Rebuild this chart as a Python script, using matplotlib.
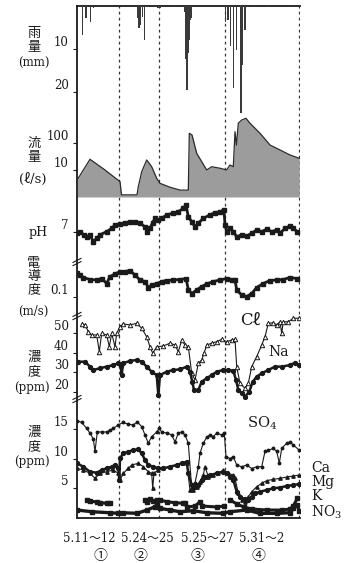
import numpy as np
import matplotlib
matplotlib.use('Agg')
import matplotlib.pyplot as plt
from matplotlib.transforms import ScaledTranslation
from matplotlib.lines import Line2D

plt.rcParams['font.family'] = ['DejaVu Serif', 'Noto Sans CJK JP', 'DejaVu Sans']
plt.rcParams['mathtext.fontset'] = 'dejavuserif'

# ---------------- data ----------------
segment_edges = [0, 41.7, 82, 148.3, 222.3]
segment_labels = ['5.11〜12', '5.24〜25', '5.25〜27', '5.31〜2']
segment_ids = ['①', '②', '③', '④']

rain_t = [5.7, 9, 13.7, 16.5, 60.3, 62, 63.7, 65.3, 67.7, 70.7, 81, 83, 98,
          108, 109, 110, 111, 112, 113, 114.5,
          148.7, 151, 153.7, 156.3, 159.7, 164, 165.7, 168, 178, 191, 213]
rain_mm = [6.7, 2.8, 3.7, 0.5, 2.8, 5.1, 4.4, 2.5, 7.9, 0.3, 0.4, 0.5, 0.3,
           1.3, 12.4, 19.5, 11.0, 8.0, 3.3, 2.8,
           3.7, 3.3, 9.4, 19.1, 10.2, 24.9, 13.7, 5.6, 0.3, 0.3, 0.3]

flow_t = [0.5, 13, 28, 43, 44.5, 60, 61.3, 64.7, 69.7, 74.7, 79.7, 83, 93, 103,
          111.3, 112.3, 115, 119.7, 124.7, 129.7, 134.7, 143, 149.7, 153, 156.3,
          158, 159.5, 161.3, 164.7, 169, 173, 183, 193, 203, 213, 222.3]
flow_q = [4.5, 24.9, 10, 3.7, 1.2, 1.2, 2.4, 8.6, 23.5, 13.2, 4.9, 3.2, 2.3, 1.8,
          1.8, 229, 198, 41.5, 20.3, 10, 13.2, 11.6, 10, 15.3, 13.2,
          262, 84, 537, 708, 820, 537, 229, 84, 55, 36, 27]

ph_t = [0, 3, 6.5, 9.7, 13, 16.3, 20, 23, 29.7, 34.7, 38, 43, 48, 53, 58, 63, 68,
        70.3, 73, 75.5, 78, 81.3, 84.7, 89.7, 96.3, 101.3, 106.3, 109, 111.3,
        114.7, 118, 121.3, 126.3, 133, 138, 143, 147, 148, 149.7, 153, 156.3,
        159.7, 164.7, 169.7, 174.7, 179.7, 184.7, 189.7, 194.7, 199.7, 203, 208,
        213, 216.3, 220.3]
ph_v = [6.97, 7.01, 6.93, 6.88, 6.93, 6.76, 6.85, 6.93, 7.01, 7.09, 7.18, 7.20,
        7.22, 7.26, 7.26, 7.22, 7.13, 7.01, 7.09, 7.23, 7.34, 7.30, 7.34, 7.43,
        7.47, 7.51, 7.59, 7.68, 7.38, 7.26, 7.13, 7.22, 7.34, 7.43, 7.48, 7.51,
        7.55, 7.18, 7.01, 7.09, 7.01, 6.88, 6.93, 6.90, 6.97, 7.05, 7.01, 7.07,
        7.01, 7.05, 6.97, 7.09, 7.15, 7.09, 7.01]

ec_t = [0, 3.3, 6.3, 13, 19.7, 24.7, 29.7, 33, 38, 43, 48, 53, 58, 63, 68, 71.3,
        74.7, 79.7, 84.7, 89.7, 96.3, 103, 109, 111.3, 114.7, 119.7, 124.7, 129.7,
        136.3, 143, 149.7, 154.7, 158, 159.7, 164.7, 169.7, 174.7, 179.7, 186.3,
        193, 199.7, 206.3, 213, 219.7]
ec_v = [0.149, 0.144, 0.139, 0.135, 0.134, 0.137, 0.127, 0.141, 0.146, 0.151,
        0.151, 0.153, 0.144, 0.134, 0.131, 0.119, 0.124, 0.127, 0.131, 0.133,
        0.134, 0.135, 0.137, 0.115, 0.107, 0.114, 0.121, 0.126, 0.131, 0.134,
        0.137, 0.135, 0.134, 0.114, 0.104, 0.101, 0.107, 0.119, 0.127, 0.133,
        0.134, 0.135, 0.139, 0.137]

cl_t = [4.7, 8, 11.3, 14.7, 19.7, 22.3, 24.7, 29.7, 32.3, 34.7, 38, 39.7, 43,
        46.3, 53, 59.7, 64.7, 69.7, 73, 75.7, 79.7, 86.3, 93, 98, 101.3, 104.7,
        108, 111.3, 114.7, 118, 121.3, 124.7, 127, 129.7, 134.7, 139.7, 144.7,
        149.7, 154.7, 158, 159.7, 163, 168, 171.3, 174.7, 179.7, 184.7, 188,
        191.3, 196.3, 199.7, 203, 204.7, 206.3, 211.3, 216.3, 222.3]
cl_v = [54.6, 54.1, 50.7, 49.0, 49.0, 40.5, 49.8, 49.0, 43.0, 49.8, 43.0, 49.8,
        53.2, 54.6, 54.1, 54.9, 52.4, 48.1, 43.0, 39.7, 43.0, 43.4, 44.8, 43.9,
        40.5, 46.4, 43.9, 43.0, 29.5, 26.1, 34.6, 36.3, 39.7, 43.9, 44.8, 45.6,
        46.8, 45.6, 46.4, 46.8, 32.9, 24.4, 21.9, 24.4, 32.9, 38.0, 43.9, 48.1,
        54.9, 55.2, 54.1, 55.7, 49.8, 55.7, 55.7, 57.5, 57.5]

na_t = [1.3, 8, 13, 16.3, 23, 29.7, 36.3, 41.3, 43.5, 44.7, 46, 53, 59.7, 64.7,
        69.7, 74.7, 79.7, 81.3, 83, 89.7, 96.3, 103, 109.7, 113, 115.3, 117,
        121.3, 124.7, 129.7, 134.7, 139.7, 146.3, 151.3, 156.3, 159, 161.3, 164.7,
        168, 172.3, 175.7, 179.7, 184.7, 191.3, 198, 204.7, 213, 218, 222.3]
na_v = [35.4, 35.4, 32.9, 31.2, 32.1, 32.9, 33.7, 34.6, 33.2, 28.6, 34.6, 35.8,
        36.3, 35.4, 32.9, 30.3, 28.6, 18.5, 28.6, 30.3, 31.2, 31.5, 32.9, 30.3,
        25.2, 21.0, 21.0, 25.2, 27.0, 28.6, 30.3, 31.2, 31.2, 30.8, 26.1, 21.0,
        19.3, 17.6, 20.2, 25.2, 27.8, 29.5, 31.2, 32.9, 32.9, 33.7, 34.9, 33.7]

so4_t = [0, 4.7, 9.7, 13, 16.3, 18, 20.3, 25, 29.7, 33, 36.3, 41.3, 46.3, 51.3,
         56.3, 60.3, 64.7, 68, 71.3, 74.7, 79.7, 82.3, 84.7, 89.7, 94.7, 98,
         101.3, 104.7, 108, 111.3, 114.7, 118, 121.3, 123, 126.3, 129.7, 133,
         136.3, 139.7, 144.7, 147.3, 149, 153, 156.3, 159.7, 164.7, 169.7, 174.7,
         179.7, 184.7, 188, 191.3, 196.3, 199.7, 202.3, 204.7, 209.7, 213, 216.3,
         222.3]
so4_v = [16.4, 16.1, 15.1, 14.3, 13.3, 11.2, 14.5, 14.5, 14.5, 14.8, 15.1, 15.7,
         16.1, 15.8, 15.7, 16.2, 15.4, 14.0, 12.6, 13.7, 14.5, 15.1, 14.5, 14.3,
         14.0, 12.8, 14.3, 14.5, 14.0, 12.6, 5.0, 5.8, 8.6, 10.9, 12.6, 13.6,
         14.0, 13.7, 14.3, 14.0, 14.3, 10.3, 10.0, 10.3, 8.9, 8.6, 8.9, 8.3,
         8.6, 8.6, 11.2, 11.4, 11.7, 11.2, 9.2, 11.7, 12.6, 12.8, 12.3, 11.4]

ca_t = [0, 6.3, 13, 18, 23, 29.7, 36.3, 41.3, 43, 46.3, 51.3, 54.7, 61.3, 66.3,
        71.3, 74.7, 75.7, 77, 81.3, 86.3, 93, 99.7, 106.3, 109.7, 113, 116,
        119.7, 123, 126.3, 128, 131.3, 136.3, 141.3, 146.3, 151.3, 156.3, 158,
        161.3, 164.7, 168, 171.3, 174.7, 179.7, 184.7, 189.7, 196.3, 203, 209.7,
        216.3, 222.3]
ca_v = [8.34, 8.05, 7.49, 6.64, 7.49, 7.76, 8.05, 7.49, 6.36, 7.49, 8.34, 8.90,
        9.19, 8.61, 7.76, 7.49, 4.95, 7.54, 8.05, 8.34, 8.61, 8.90, 9.19, 9.19,
        4.66, 4.66, 5.22, 6.07, 7.20, 8.61, 6.92, 7.20, 7.49, 8.05, 7.49, 7.20,
        6.64, 4.10, 2.97, 2.68, 3.53, 4.37, 5.22, 5.80, 6.24, 6.47, 6.64, 6.86,
        7.03, 7.20]

mg_t = [0, 6.3, 13, 19.7, 24.7, 29.7, 34.7, 38, 41.3, 42.3, 43, 46.3, 51.3, 56.3,
        61.3, 64.7, 68, 71.3, 76.3, 81.3, 86.3, 93, 99.7, 104.7, 109.7, 111.3,
        114.7, 118, 121.3, 124.7, 128, 133, 139.7, 146.3, 149.7, 153, 156.3,
        159.7, 163, 168, 171.3, 174.7, 178, 183, 189.7, 196.3, 203, 209.7, 216.3,
        222.3]
mg_v = [9.19, 8.61, 7.76, 7.59, 8.05, 8.34, 8.61, 8.90, 8.34, 6.36, 10.03, 10.88,
        11.15, 11.44, 11.56, 10.88, 9.75, 8.90, 8.61, 8.34, 8.34, 8.61, 8.90,
        9.19, 9.46, 7.49, 5.51, 5.22, 5.51, 6.36, 6.92, 7.20, 7.49, 7.76, 7.59,
        6.92, 6.36, 4.37, 3.53, 3.08, 2.97, 3.53, 4.10, 4.37, 4.66, 4.95, 5.08,
        5.34, 5.51, 5.68]

k_t = [9.7, 13, 19.7, 23, 29.7, 33, np.nan, 68, 70, 73, 76.3, 79.7, 83, 89.7, 98,
       106.3, 108, 110, 118, 123, 125, 140, 147, np.nan, 153, 160, 166.7, 175,
       190, 205, 213, 216.3, 220.3]
k_v = [2.97, 2.80, 2.63, 2.51, 2.41, 2.41, np.nan, 2.97, 2.68, 3.14, 2.80, 2.97,
       2.97, 2.68, 2.51, 2.41, 2.41, 1.78, 1.95, 2.68, 1.95, 1.78, 1.95, np.nan,
       2.97, 2.29, 1.78, 1.44, 1.27, 1.27, 1.44, 1.95, 3.25]

no3_t = [0, 15, 33, 41.3, 46.3, 60, 70, 78, 80, 83, 93, 103, 116.3, 129.7,
         146.3, 153, 169.7, 183, 199.7, 213, 216.3, 220.3, 222.3]
no3_v = [1.27, 0.98, 0.81, 0.71, 0.81, 0.71, 1.27, 1.83, 2.12, 1.56, 1.27, 0.98,
         1.15, 0.81, 0.71, 0.98, 1.27, 0.71, 0.71, 0.81, 1.61, 2.12, 1.1]

# ---------------- layout helpers ----------------
W, H = 352, 563
X0, X1 = 77, 300
fig = plt.figure(figsize=(W / 100, H / 100), dpi=100)


def rect(ytop, ybot):
    return [X0 / W, 1 - ybot / H, (X1 - X0) / W, (ybot - ytop) / H]


def fx(x):
    return x / W


def fy(y):
    return 1 - y / H


INK = '#1a1a1a'
CJK = ['Noto Sans CJK JP']
SER = ['DejaVu Serif', 'Noto Sans CJK JP', 'DejaVu Sans']

# frame axes (left axis, top & bottom lines, dashed event separators)
frame = fig.add_axes(rect(6, 518))
frame.set_xlim(0, 223)
frame.set_ylim(0, 1)
frame.patch.set_alpha(0)
frame.set_xticks([])
frame.set_yticks([])
frame.spines['right'].set_visible(False)
for s in ('left', 'top', 'bottom'):
    frame.spines[s].set_linewidth(1.3)
    frame.spines[s].set_color(INK)
for e in segment_edges[1:]:
    frame.axvline(e, color='#333333', lw=0.9, ls=(0, (2.2, 2.6)))

offset = ScaledTranslation(0, 0.08, fig.dpi_scale_trans)


def panel(ytop, ybot):
    ax = fig.add_axes(rect(ytop, ybot), sharex=frame)
    ax.patch.set_alpha(0)
    for s in ax.spines.values():
        s.set_visible(False)
    ax.tick_params(axis='x', bottom=False, labelbottom=False)
    ax.tick_params(axis='y', direction='out', length=3, width=0.8, pad=3,
                   labelsize=8.5, colors=INK)
    return ax


def shift_labels(ax):
    for lbl in ax.get_yticklabels():
        lbl.set_transform(lbl.get_transform() + offset)


# rain
ax_r = panel(6, 100)
ax_r.bar(rain_t, rain_mm, width=1.3, color='#3a3a3a', lw=0, clip_on=False,
         zorder=3)
ax_r.set_ylim(21.9, 0)
ax_r.set_yticks([10, 20])
shift_labels(ax_r)

# flow
ax_q = panel(100, 197)
ax_q.set_yscale('log')
ax_q.fill_between(flow_t, 1, flow_q, color='#9c9c9c', lw=0)
ax_q.plot(flow_t, flow_q, color='#2a2a2a', lw=0.9)
ax_q.set_ylim(1, 3900)
ax_q.set_yticks([10, 100])
ax_q.set_yticklabels(['10', '100'])
ax_q.yaxis.set_minor_locator(matplotlib.ticker.NullLocator())
shift_labels(ax_q)

# pH
ax_ph = panel(197, 260)
ax_ph.plot(ph_t, ph_v, color=INK, lw=2.0, marker='s', ms=2.6)
ax_ph.set_ylim(6.3, 7.875)
ax_ph.set_yticks([7])
ax_ph.set_yticklabels(['7'])
shift_labels(ax_ph)

# conductivity
ax_ec = panel(262, 310)
ax_ec.plot(ec_t, ec_v, color=INK, lw=2.0, marker='s', ms=2.6)
ax_ec.set_ylim(0.074, 0.17)
ax_ec.set_yticks([0.1])
ax_ec.set_yticklabels(['0.1'])
shift_labels(ax_ec)

# Cl, Na
ax_c1 = panel(316, 399)
ax_c1.plot(cl_t, cl_v, color=INK, lw=0.8, marker='^', ms=3.2,
           mfc='white', mec=INK, mew=0.7)
ax_c1.plot(na_t, na_v, color=INK, lw=1.8, marker='o', ms=2.8)
ax_c1.set_ylim(16.45, 58.64)
ax_c1.set_yticks([20, 30, 40, 50])
shift_labels(ax_c1)

# SO4, Ca, Mg, K, NO3
ax_c2 = panel(399, 518)
ax_c2.plot(so4_t, so4_v, color=INK, lw=0.8, marker='o', ms=1.8)
ax_c2.plot(ca_t, ca_v, color=INK, lw=0.8, marker='^', ms=2.4)
ax_c2.plot(mg_t, mg_v, color=INK, lw=1.8, marker='o', ms=2.8)
ax_c2.plot(k_t, k_v, color=INK, lw=2.2, marker='s', ms=2.4)
ax_c2.plot(no3_t, no3_v, color=INK, lw=2.4, marker='s', ms=2.4)
ax_c2.set_ylim(-0.08, 20.08)
ax_c2.set_yticks([5, 10, 15])
shift_labels(ax_c2)

# axis break marks on the left axis
for yb in (262, 316, 399):
    for dy in (-1.6, 1.6):
        fig.add_artist(Line2D([fx(X0 - 4), fx(X0 + 4)],
                              [fy(yb + dy + 2), fy(yb + dy - 2)],
                              transform=fig.transFigure, color=INK, lw=0.8))


# left-hand axis titles
def stack(x, ys, chars, size=9.5):
    for y, c in zip(ys, chars):
        fig.text(fx(x), fy(y), c, ha='center', va='center', fontsize=size,
                 family=CJK, color=INK)


stack(34, [33, 47], ['雨', '量'])
fig.text(fx(34), fy(63), '(mm)', ha='center', va='center', fontsize=8.5,
         family=SER, color=INK)
stack(34, [143, 158], ['流', '量'])
fig.text(fx(33), fy(179), '(ℓ/s)', ha='center', va='center', fontsize=9.5,
         family=SER, color=INK)
fig.text(fx(38), fy(233), 'pH', ha='center', va='center', fontsize=9,
         family=SER, color=INK)
stack(34, [263, 277, 290], ['電', '導', '度'])
fig.text(fx(33), fy(311), '(m/s)', ha='center', va='center', fontsize=8.5,
         family=SER, color=INK)
stack(34, [357, 372], ['濃', '度'])
fig.text(fx(32), fy(387), '(ppm)', ha='center', va='center', fontsize=8.5,
         family=SER, color=INK)
stack(34, [432, 447], ['濃', '度'])
fig.text(fx(32), fy(462), '(ppm)', ha='center', va='center', fontsize=8.5,
         family=SER, color=INK)

# series names
fig.text(fx(250), fy(320), 'Cℓ', ha='center', va='center', fontsize=12,
         family=SER, color=INK)
fig.text(fx(279), fy(352), 'Na', ha='center', va='center', fontsize=10,
         family=SER, color=INK)
fig.text(fx(262), fy(423), 'SO$_4$', ha='center', va='center', fontsize=10.5,
         family=SER, color=INK)
for y, name in zip([468, 482, 496, 512], ['Ca', 'Mg', 'K', 'NO$_3$']):
    fig.text(fx(311), fy(y), name, ha='left', va='center', fontsize=10,
             family=SER, color=INK)

# event labels
for xc, lab in zip([89, 147, 207, 262], segment_labels):
    fig.text(fx(xc), fy(538), lab, ha='center', va='center', fontsize=8.5,
             family=SER, color=INK)
for xc, lab in zip([100, 140, 197, 258], segment_ids):
    fig.text(fx(xc), fy(556), lab, ha='center', va='center', fontsize=10,
             family=SER, color=INK)

fig.savefig('out.png', dpi=100, facecolor='white')
